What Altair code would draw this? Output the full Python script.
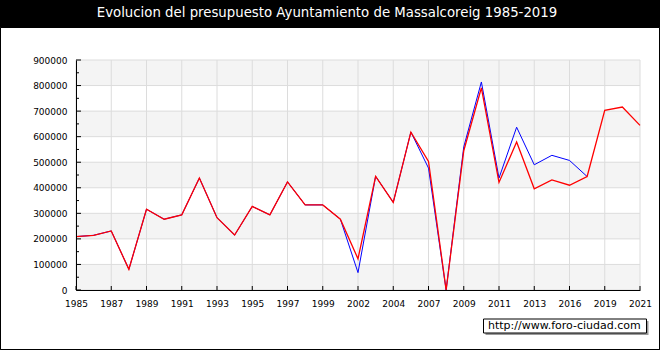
import altair as alt
import pandas as pd

title_text = "Evolucion del presupuesto Ayuntamiento de Massalcoreig 1985-2019"
watermark_text = "http://www.foro-ciudad.com"

years = ["1985", "1986", "1987", "1988", "1989", "1990", "1991", "1992", "1993",
         "1994", "1995", "1996", "1997", "1998", "1999", "2001", "2002", "2003",
         "2004", "2006", "2007", "2008", "2009", "2010", "2011", "2012", "2013",
         "2015", "2016", "2018", "2019", "2020", "2021"]
x_labels = ["1985", "1987", "1989", "1991", "1993", "1995", "1997", "1999", "2002",
            "2004", "2007", "2009", "2011", "2013", "2016", "2019", "2021"]
red_values = [209000, 214000, 231000, 81000, 316000, 277000, 294000, 438000, 283000,
              215000, 327000, 294000, 423000, 333000, 333000, 277000, 122000, 445000,
              343000, 618000, 503000, 0, 545000, 791000, 421000, 579000, 396000,
              431000, 410000, 444000, 703000, 716000, 644000]
blue_values = [209000, 214000, 231000, 81000, 316000, 277000, 294000, 438000, 283000,
               215000, 327000, 294000, 423000, 333000, 333000, 277000, 68000, 445000,
               343000, 618000, 477000, 0, 560000, 814000, 438000, 637000, 490000,
               527000, 507000, 444000]
y_ticks = [0, 100000, 200000, 300000, 400000, 500000, 600000, 700000, 800000, 900000]
y_minor = [50000, 150000, 250000, 350000, 450000, 550000, 650000, 750000, 850000]
band_lo = [0, 200000, 400000, 600000, 800000]
band_hi = [100000, 300000, 500000, 700000, 900000]

W, H = 564, 230
FONT = "DejaVu Sans"

red_df = pd.DataFrame({"year": years, "value": red_values})
blue_df = pd.DataFrame({"year": years[:len(blue_values)], "value": blue_values})
bands_df = pd.DataFrame({"lo": band_lo, "hi": band_hi})
yt_df = pd.DataFrame({"value": y_ticks})
ym_df = pd.DataFrame({"value": y_minor})
xl_df = pd.DataFrame({"year": x_labels})
one = pd.DataFrame({"t": [title_text], "w": [watermark_text]})

xscale = alt.Scale(type="point", domain=years, padding=0)
yscale = alt.Scale(domain=[0, 900000], nice=False)
xaxis = alt.Axis(values=x_labels, labelAngle=0, title=None, grid=False, ticks=False,
                 labelPadding=9, labelFont=FONT, labelFontSize=9, labelColor="black",
                 domainColor="black", labelFlush=False, zindex=1)
yaxis = alt.Axis(values=y_ticks, title=None, grid=False, ticks=False, labelPadding=9,
                 format="d", labelFont=FONT, labelFontSize=9, labelColor="black",
                 domainColor="black", zindex=1)

def X(field="year"):
    return alt.X(f"{field}:O", scale=xscale, axis=xaxis)

def Y(field="value"):
    return alt.Y(f"{field}:Q", scale=yscale, axis=yaxis)

frame = alt.Chart(one).mark_rect(fill="white", stroke="black", strokeWidth=1).encode(
    x=alt.value(-75.5), x2=alt.value(583.5), y=alt.value(-32.5), y2=alt.value(289.5))

title = alt.Chart(one).mark_text(color="white", font=FONT, fontSize=13.3, align="center",
                                 baseline="middle").encode(
    x=alt.value(251), y=alt.value(-47), text="t:N")

bands = alt.Chart(bands_df).mark_rect(fill="#f4f4f4").encode(
    y=Y("lo"), y2="hi:Q")

hgrid = alt.Chart(yt_df).mark_rule(color="#dcdcdc", strokeWidth=1).encode(y=Y())
vgrid = alt.Chart(xl_df).mark_rule(color="#dcdcdc", strokeWidth=1).encode(x=X())

ymaj = alt.Chart(yt_df).mark_rule(color="black").encode(
    y=Y(), x=alt.value(0), x2=alt.value(5))
ymin = alt.Chart(ym_df).mark_rule(color="black").encode(
    y=Y(), x=alt.value(0), x2=alt.value(3))
xt = alt.Chart(xl_df).mark_rule(color="black").encode(
    x=X(), y=alt.value(H - 4), y2=alt.value(H))

blue = alt.Chart(blue_df).mark_line(color="#0000ff", strokeWidth=1).encode(x=X(), y=Y())
red = alt.Chart(red_df).mark_line(color="#ff0000", strokeWidth=1.3).encode(x=X(), y=Y())

shadow = alt.Chart(one).mark_rect(fill="#9a9a9a").encode(
    x=alt.value(409.5), x2=alt.value(572.5), y=alt.value(261), y2=alt.value(275))
wbox = alt.Chart(one).mark_rect(fill="white", stroke="black", strokeWidth=1).encode(
    x=alt.value(407.5), x2=alt.value(570.5), y=alt.value(259), y2=alt.value(273))
wtext = alt.Chart(one).mark_text(color="black", font=FONT, fontSize=11, align="left",
                                 baseline="middle").encode(
    x=alt.value(412), y=alt.value(266), text="w:N")

chart = alt.layer(frame, title, bands, hgrid, vgrid, ymaj, ymin, xt, blue, red,
                  shadow, wbox, wtext).properties(
    width=W, height=H, autosize="none",
    padding={"left": 76, "top": 60, "right": 20, "bottom": 60},
    background="black",
).configure_view(stroke=None)

chart.save("out.html", embed_options={"renderer": "svg", "actions": False})
